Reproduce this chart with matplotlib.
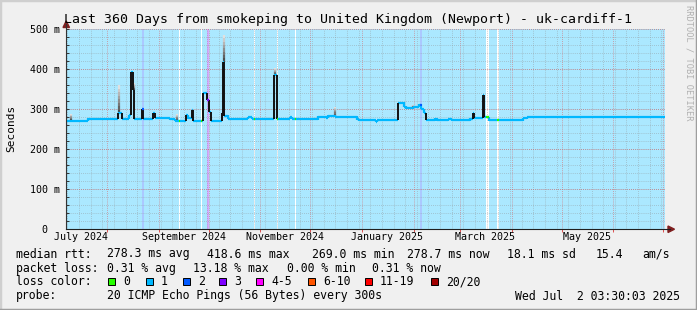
import numpy as np
import matplotlib
matplotlib.use('Agg')
import matplotlib.pyplot as plt
from matplotlib import transforms
from matplotlib.patches import Rectangle, Polygon
from matplotlib.lines import Line2D

W, H, DPI = 697, 310, 100
plt.rcParams['font.family'] = 'DejaVu Sans Mono'

start = np.datetime64('2024-07-07T03:30')
span = 360  # days shown

# median rtt as steps: day offset from start, value in ms
med_day = [0, 13.4, 31.4, 33.5, 37.9, 39.1, 40.4, 41.0, 45.5, 46.5, 52.5, 53.5,
           62.5, 65.5, 72.1, 73.5, 75.5, 76.5, 82.2, 84.6, 85.9, 87.1, 93.6, 94.5,
           95.1, 97.5, 109.6, 111.6, 125.2, 126.6, 134.6, 136.0, 140.6, 151.6,
           156.3, 157.6, 161.7, 175.1, 176.3, 186.3, 187.1, 199.7, 203.1, 204.3,
           208.7, 212.3, 213.2, 215.1, 216.3, 221.8, 222.8, 229.8, 231.8, 242.8,
           244.4, 245.2, 250.4, 251.4, 254.4, 274.8, 276.9]
med_ms = [271, 276, 289, 276, 285, 393, 347, 276, 299, 276, 291, 277,
          274, 271, 285, 277, 297, 269, 340, 322, 293, 269, 290, 418,
          283, 276, 279, 276, 385, 275, 279, 275, 274, 281,
          278, 283, 281, 274, 272, 268, 272, 316, 306, 302,
          305, 311, 300, 290, 272, 276, 272, 275, 272, 276,
          290, 277, 335, 280, 272, 277, 279]

# periods whose loss class is not 1 (start day, end day, class index)
loss_start = [52.0, 68.0, 81.0, 113.0, 127.0, 137.6, 252.4, 258.8, 45.7, 212.7, 84.6]
loss_end = [52.5, 68.6, 81.6, 113.6, 127.5, 138.2, 254.4, 260.2, 46.9, 213.9, 86.1]
loss_cls = [0, 0, 0, 0, 0, 0, 0, 0, 2, 2, 3]

# grey smoke above the median
smoke_day = [2.8, 31.6, 40.9, 66.5, 94.8, 125.4, 161.5, 208.5]
smoke_lo = [272, 289, 347, 271, 418, 385, 283, 305]
smoke_hi = [287, 360, 365, 287, 485, 402, 306, 310]

loss_labels = ['0', '1', '2', '3', '4-5', '6-10', '11-19', '20/20']
loss_colors = ['#26ff00', '#00b8ff', '#0059ff', '#7e00ff', '#ff00ff', '#ff5500', '#ff0000', '#a10000']

month_starts = ['2024-08-01', '2024-09-01', '2024-10-01', '2024-11-01', '2024-12-01',
                '2025-01-01', '2025-02-01', '2025-03-01', '2025-04-01', '2025-05-01',
                '2025-06-01', '2025-07-01']
label_months = ['2024-07-01', '2024-09-01', '2024-11-01', '2025-01-01', '2025-03-01', '2025-05-01']
label_texts = ['July 2024', 'September 2024', 'November 2024', 'January 2025', 'March 2025', 'May 2025']

title = 'Last 360 Days from smokeping to United Kingdom (Newport) - uk-cardiff-1'
stats = [['median rtt:', '278.3 ms avg', '418.6 ms max', '269.0 ms min', '278.7 ms now',
          '18.1 ms sd', '15.4', 'am/s'],
         ['packet loss:', '0.31 % avg', '13.18 % max', '0.00 % min', '0.31 % now']]
stat_x = [[16, 107.3, 207.3, 311.7, 407.3, 507.3, 595.7, 642.3],
          [16, 107.3, 192.7, 286.7, 372.3]]


def days(d):
    return (np.datetime64(d) - start) / np.timedelta64(1, 'D')


def light(c, a=0.33):
    rgb = np.array(matplotlib.colors.to_rgb(c))
    return tuple(1 - a * (1 - rgb))


fig = plt.figure(figsize=(W / DPI, H / DPI), dpi=DPI, facecolor='#f0f0f0')
ax = fig.add_axes([66 / W, 1 - 229 / H, 599 / W, 200 / H])
ax.set_xlim(0, span)
ax.set_ylim(0, 500)
ax.set_facecolor('white')
for s in ['top', 'right', 'left', 'bottom']:
    ax.spines[s].set_visible(False)

# loss background
ax.axvspan(0, span, color=light(loss_colors[1]), lw=0, zorder=0.2)
for a, b, c in zip(loss_start, loss_end, loss_cls):
    col = 'white' if c == 0 else light(loss_colors[c])
    ax.axvspan(a, b, color=col, lw=0, zorder=0.3)

# grid, dotted
dot = (0, (1, 1.5))
weeks = np.arange(days('2024-07-08'), span, 7)
ax.vlines(weeks, 0, 500, colors='#8f8f8f', alpha=0.55, lw=0.6, linestyles=dot, zorder=1)
ax.hlines(np.arange(20, 501, 20), 0, span, colors='#8f8f8f', alpha=0.55, lw=0.6, linestyles=dot,
          zorder=1)
ax.vlines([days(m) for m in month_starts], 0, 500, colors='#e05050', alpha=0.65, lw=0.6,
          linestyles=dot, zorder=1.1)
ax.hlines(np.arange(100, 501, 100), 0, span, colors='#e05050', alpha=0.65, lw=0.6, linestyles=dot,
          zorder=1.1)

# smoke
for d, lo, hi in zip(smoke_day, smoke_lo, smoke_hi):
    edges = np.linspace(lo, hi, 9)
    shades = np.linspace(0.3, 0.88, 8)
    for k in range(8):
        ax.vlines(d, edges[k], edges[k + 1], colors=str(shades[k]), lw=1.6, zorder=2)

# median line
ends = med_day[1:] + [span]
cyan = loss_colors[1]
ax.hlines(med_ms, med_day, ends, colors=cyan, lw=1.6, zorder=3)
for i in range(1, len(med_day)):
    lo, hi = sorted([med_ms[i - 1], med_ms[i]])
    if hi - lo > 12:
        ax.vlines(med_day[i], lo, hi, colors='#111111', lw=1.4, zorder=3.5)
    else:
        ax.vlines(med_day[i], lo - 1, hi + 1, colors=cyan, lw=1.6, zorder=3)
for a, b, c in zip(loss_start, loss_end, loss_cls):
    idx = np.searchsorted(med_day, a, side='right') - 1
    ax.hlines(med_ms[idx], a, b, colors=loss_colors[c], lw=1.6, zorder=4)

# ticks
ax.set_yticks(range(0, 501, 100))
ax.set_yticklabels(['0  '] + ['%d m' % v for v in range(100, 501, 100)])
ax.set_yticks(range(0, 501, 20), minor=True)
ax.tick_params(axis='y', which='both', direction='in', length=2, width=0.7, color='#333333',
               pad=4.3, labelsize=7.2)
ax.set_xticks([days(m) for m in month_starts])
ax.tick_params(axis='x', which='both', direction='out', length=2, width=0.7, color='#de5050',
               labelbottom=False)
tx = transforms.blended_transform_factory(ax.transData, fig.transFigure)
for m, t in zip(label_months, label_texts):
    ax.text(days(m) + 15, 1 - 237.3 / H, t, transform=tx, ha='center', va='center',
            fontsize=7.2, clip_on=False)

# axes lines and arrows
fx = lambda x: x / W
fy = lambda y: 1 - y / H
fig.add_artist(Line2D([fx(66), fx(66)], [fy(229), fy(24)], color='#333333', lw=0.8))
fig.add_artist(Line2D([fx(66), fx(670)], [fy(229), fy(229)], color='#1f1f1f', lw=0.8))
fig.add_artist(Polygon([(fx(63), fy(27.5)), (fx(69.5), fy(27.5)), (fx(66.2), fy(21))],
                       closed=True, color='#7f1f1f', transform=fig.transFigure))
fig.add_artist(Polygon([(fx(668), fy(226)), (fx(668), fy(232.5)), (fx(674.5), fy(229.2))],
                       closed=True, color='#7f1f1f', transform=fig.transFigure))

# texts
fig.text(fx(64), fy(19.3), title, fontsize=9.55, ha='left', va='center')
fig.text(fx(11), fy(128), 'Seconds', rotation=90, fontsize=8, ha='center', va='center')
fig.text(fx(688.5), fy(5), 'RRDTOOL / TOBI OETIKER', rotation=270, fontsize=6.2,
         color='#b0b0b0', ha='center', va='top')

row_y = [254, 268.3, 281.7, 296]
fs = 8.3
for r in range(2):
    for t, x in zip(stats[r], stat_x[r]):
        fig.text(fx(x), fy(row_y[r]), t, fontsize=fs, ha='left', va='center')

fig.text(fx(16), fy(row_y[2]), 'loss color:', fontsize=fs, ha='left', va='center')
box_x = [108.3, 146, 182.7, 219.3, 256, 308.3, 365, 431]
for bx, lab, col in zip(box_x, loss_labels, loss_colors):
    fig.add_artist(Rectangle((fx(bx), fy(row_y[2] + 3.5)), 7 / W, 7 / H, facecolor=col,
                             edgecolor='black', lw=0.7, transform=fig.transFigure))
    fig.text(fx(bx + 15), fy(row_y[2]), lab, fontsize=fs, ha='left', va='center')

fig.text(fx(16), fy(row_y[3]), 'probe:', fontsize=fs, ha='left', va='center')
fig.text(fx(107.3), fy(row_y[3]), '20 ICMP Echo Pings (56 Bytes) every 300s', fontsize=fs,
         ha='left', va='center')
fig.text(fx(680), fy(row_y[3]), 'Wed Jul  2 03:30:03 2025', fontsize=fs, ha='right', va='center')

# frame shading
fig.add_artist(Line2D([0, 0, 1], [0, 1, 1], color='#cfcfcf', lw=2.5, transform=fig.transFigure))
fig.add_artist(Line2D([0, 1, 1], [0, 0, 1], color='#9e9e9e', lw=2.5, transform=fig.transFigure))

fig.savefig('out.png', dpi=DPI, facecolor=fig.get_facecolor())
